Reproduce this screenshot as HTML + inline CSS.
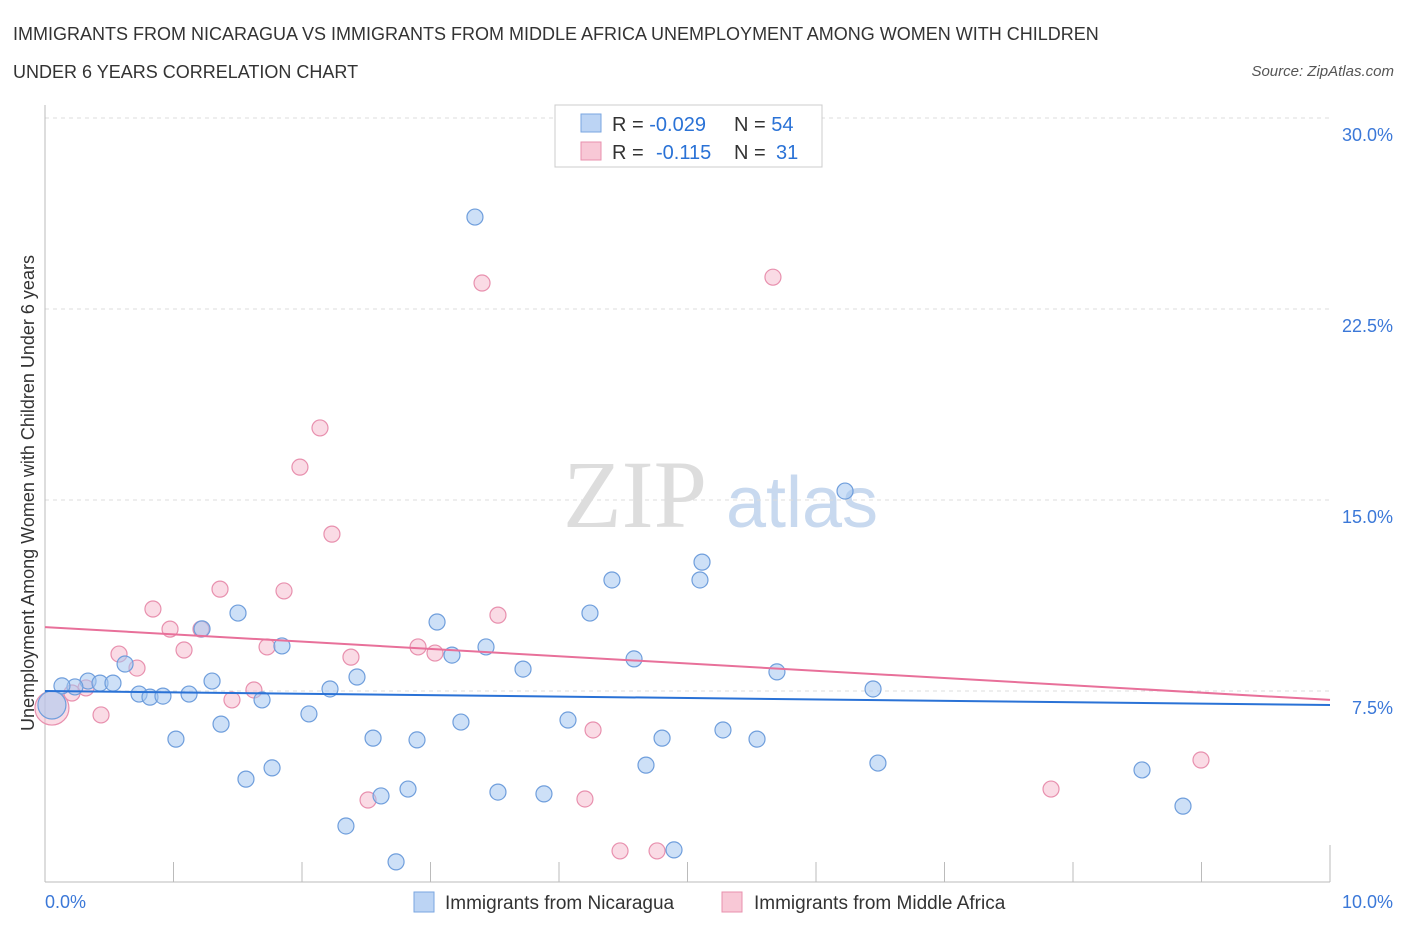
<!DOCTYPE html>
<html><head><meta charset="utf-8"><style>
body{margin:0;background:#fff;font-family:"Liberation Sans",sans-serif}
</style></head><body>
<svg id="chart" width="1406" height="930" xmlns="http://www.w3.org/2000/svg" font-family="Liberation Sans, sans-serif">
<text x="13" y="40" font-size="18" fill="#333">IMMIGRANTS FROM NICARAGUA VS IMMIGRANTS FROM MIDDLE AFRICA UNEMPLOYMENT AMONG WOMEN WITH CHILDREN</text>
<text x="13" y="78" font-size="18" fill="#333">UNDER 6 YEARS CORRELATION CHART</text>
<text x="1394" y="76" font-size="15" font-style="italic" fill="#555" text-anchor="end">Source: ZipAtlas.com</text>
<g>
<text x="635" y="527" font-size="96" font-family="Liberation Serif, serif" fill="#ddd" text-anchor="middle">ZIP</text>
<text x="802" y="527" font-size="72" fill="#c8d9ef" text-anchor="middle">atlas</text>
</g>
<g id="grid"></g>
<g id="axes"></g>
<g id="marks"></g>
<text transform="translate(34,493) rotate(-90)" font-size="18" fill="#333" text-anchor="middle">Unemployment Among Women with Children Under 6 years</text>
<g>
<rect x="555" y="105" width="267" height="62" fill="#fff" stroke="#ccc"/>
<rect x="581" y="114" width="20" height="18" fill="#bcd4f4" stroke="#7aa6e0"/>
<rect x="581" y="142" width="20" height="18" fill="#f8c8d6" stroke="#e890ae"/>
<text x="612" y="131" font-size="20" fill="#333">R = <tspan fill="#2a72d6">-0.029</tspan><tspan x="734">N = </tspan><tspan fill="#2a72d6">54</tspan></text>
<text x="612" y="159" font-size="20" fill="#333">R = <tspan x="656" fill="#2a72d6">-0.115</tspan><tspan x="734">N = </tspan><tspan x="776" fill="#2a72d6">31</tspan></text>
</g>
<g>
<rect x="414" y="892" width="20" height="20" fill="#bcd4f4" stroke="#7aa6e0"/>
<text x="445" y="909" font-size="19" fill="#333">Immigrants from Nicaragua</text>
<rect x="722" y="892" width="20" height="20" fill="#f8c8d6" stroke="#e890ae"/>
<text x="754" y="909" font-size="19" fill="#333">Immigrants from Middle Africa</text>
</g>
</svg>
<script>
const yTicks=[7.5,15,22.5,30];
const yTickLabels=["7.5%","15.0%","22.5%","30.0%"];
const xTicks=[0,1,2,3,4,5,6,7,8,9,10];
const xEndLabels=["0.0%","10.0%"];
const nicX=[3.346,6.226,5.113,4.412,5.097,4.241,1.502,3.051,1.222,1.844,3.432,3.167,4.584,0.623,3.720,5.696,2.428,0.335,0.428,0.529,1.300,0.233,0.132,2.218,6.444,0.732,0.817,0.918,1.121,1.689,2.054,1.370,3.237,4.070,5.276,1.019,2.553,2.895,4.802,5.541,6.482,4.677,1.767,8.537,1.564,2.825,3.525,3.883,2.615,8.856,2.342,4.895,2.732,0.054];
const nicY=[26.11,15.35,12.56,11.86,11.86,10.56,10.56,10.21,9.94,9.27,9.23,8.91,8.76,8.56,8.36,8.25,8.05,7.89,7.81,7.81,7.89,7.66,7.70,7.58,7.58,7.38,7.26,7.30,7.38,7.15,6.60,6.20,6.28,6.36,5.97,5.61,5.65,5.58,5.65,5.61,4.67,4.59,4.48,4.40,4.04,3.65,3.53,3.46,3.38,2.98,2.20,1.26,0.79,6.95];
const mafX=[3.401,5.665,2.140,1.984,2.233,1.362,1.860,0.840,3.525,0.973,1.214,1.082,2.903,1.728,3.035,2.381,0.576,0.716,1.626,0.319,0.210,1.455,0.436,4.265,8.996,7.829,2.514,4.202,4.475,4.763,0.054];
const mafY=[23.52,23.75,17.83,16.29,13.66,11.50,11.43,10.72,10.48,9.93,9.93,9.11,9.23,9.23,8.99,8.83,8.95,8.40,7.54,7.62,7.42,7.15,6.56,5.97,4.79,3.65,3.22,3.26,1.22,1.22,6.83];
const nicTrend=[7.50,6.95];
const mafTrend=[10.01,7.15];
const NS="http://www.w3.org/2000/svg";
const X0=45,X1=1330,Y0=882,PX=191/7.5;
function xs(v){return X0+v/10*(X1-X0);}
function ys(v){return Y0-v*PX;}
function mk(tag,attrs,parent){const e=document.createElementNS(NS,tag);for(const k in attrs)e.setAttribute(k,attrs[k]);document.getElementById(parent).appendChild(e);return e;}
yTicks.forEach((t,i)=>{
 const l=mk('line',{x1:X0,x2:X1,y1:ys(t),y2:ys(t),stroke:'#ddd','stroke-dasharray':'4,4'},'grid');
 
 
 const tx=mk('text',{x:1393,y:ys(t)+23,'font-size':18,fill:'#3b78d8','text-anchor':'end'},'axes');
 tx.textContent=yTickLabels[i];
 
 
});
const ax=mk('line',{x1:X0,x2:X0,y1:105,y2:Y0,stroke:'#bbb'},'axes');


const bx=mk('line',{x1:X0,x2:X1,y1:Y0,y2:Y0,stroke:'#bbb'},'axes');


xTicks.forEach(t=>{
 const l=mk('line',{x1:xs(t),x2:xs(t),y1:Y0,y2:t%1===0&&t>0&&t<10?862:Y0,stroke:'#bbb'},'axes');
 if(t===10){l.setAttribute('y1',845);}
 
 
});
[[0,'start',45],[10,'end',1393]].forEach((p,i)=>{
 const tx=mk('text',{x:p[2],y:908,'font-size':18,fill:'#3b78d8','text-anchor':p[1]},'axes');
 tx.textContent=xEndLabels[i];
 
 
});
function pts(xa,ya,fill,stroke,name){
 xa.forEach((v,i)=>{
  const big=i===xa.length-1;
  const c=mk('circle',{cx:xs(v),cy:ys(ya[i]),r:big?(name==='point-middle-africa'?17:14):8,fill:fill,stroke:stroke,'stroke-width':1.2},'marks');
  
  
 });
}
pts(mafX,mafY,'rgba(246,184,204,0.5)','#e890ae','point-middle-africa');
pts(nicX,nicY,'rgba(164,198,240,0.55)','#6f9edc','point-nicaragua');
const t1=mk('line',{x1:xs(0),x2:xs(10),y1:ys(nicTrend[0]),y2:ys(nicTrend[1]),stroke:'#2a72d6','stroke-width':2},'marks');


const t2=mk('line',{x1:xs(0),x2:xs(10),y1:ys(mafTrend[0]),y2:ys(mafTrend[1]),stroke:'#e8709a','stroke-width':2},'marks');


</script>
</body></html>
